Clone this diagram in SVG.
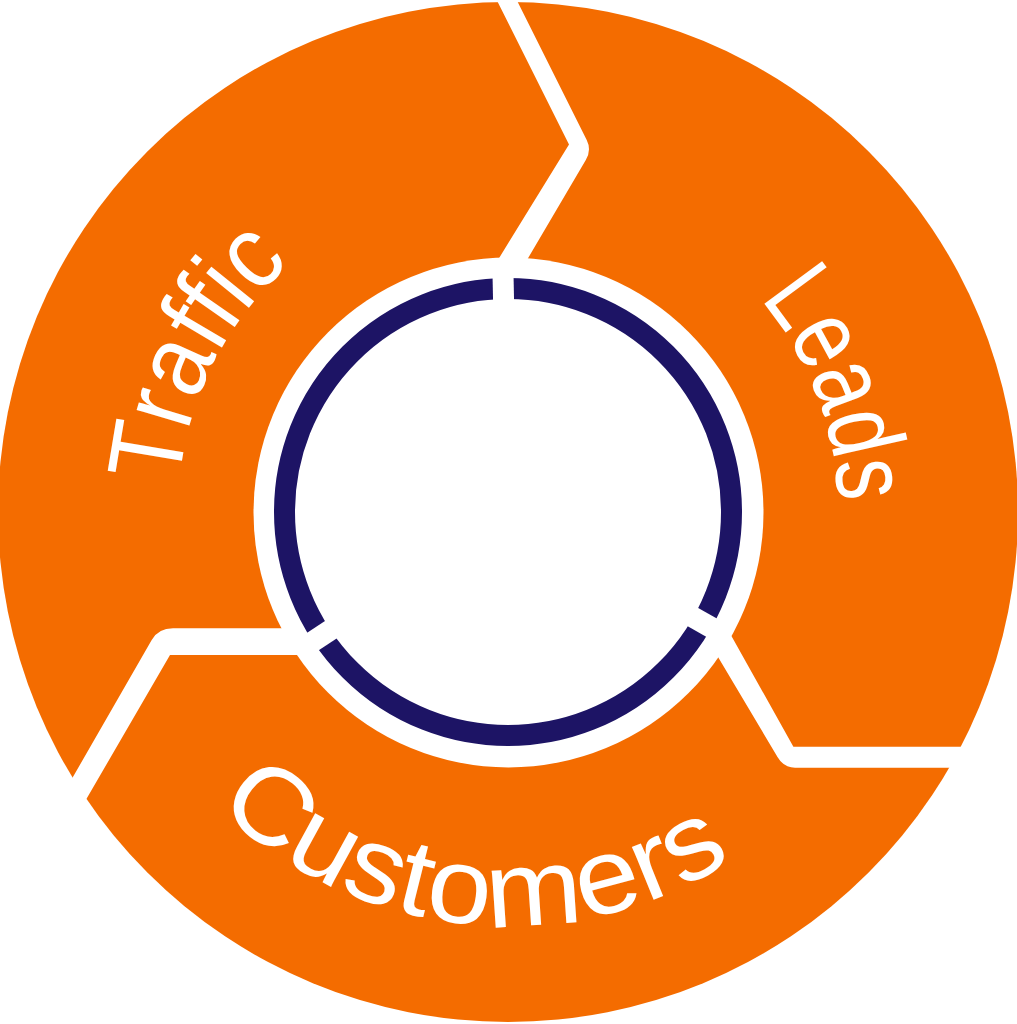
<svg xmlns="http://www.w3.org/2000/svg" width="1017" height="1024" viewBox="0 0 1017 1024">
  <style>
    .lbl { fill: #ffffff; font-family: "Liberation Sans", "DejaVu Sans", sans-serif; font-size: 104px; }
    .sep { fill: #ffffff; }
    .gap { stroke: #ffffff; stroke-width: 21; }
  </style>
  <defs>
    <path id="arcCustomers" d="M 100.3 583.9 A 414 414 0 0 0 915.7 583.9"/>
    <path id="arcTraffic" d="M 183 569.3 A 330 330 0 0 1 620.9 201.9"/>
    <path id="arcLeads" d="M 508 182 A 330 330 0 0 1 793.8 677"/>
  </defs>
  <rect width="1017" height="1024" fill="#ffffff"/>
  <g id="ring">
    <circle cx="508" cy="512" r="510" fill="#F46C00"/>
  </g>
  <g id="connectors">
    <path class="sep" d="M 494.2 -5 L 569 144.6 L 490.5 272 L 515.2 280 L 585.8 160 Q 591.7 150 586.7 140 L 514.2 -5 Z"/>
    <path class="sep" d="M 711.3 600 L 793.4 746.7 L 990 746.7 L 990 767.7 L 795 767.7 Q 783.8 767.7 777.5 757 L 696 620 Z"/>
    <path class="sep" d="M 300 628.3 L 173 628.3 Q 158.4 628.3 151.7 640 L 59.7 800 L 80 810 L 170 655 L 305 655 Z"/>
  </g>
  <g id="hub">
    <circle cx="508.5" cy="512.5" r="255" fill="#ffffff"/>
    <circle cx="508" cy="512" r="223.5" fill="none" stroke="#1D1465" stroke-width="21"/>
    <line class="gap" x1="503.8" y1="312" x2="502.85" y2="266.1"/>
    <line class="gap" x1="681.9" y1="610.8" x2="721.9" y2="633.5"/>
    <line class="gap" x1="341.4" y1="622.7" x2="303.1" y2="648.1"/>
  </g>
  <g id="node-traffic">
    <text class="lbl"><textPath href="#arcTraffic" startOffset="212" text-anchor="middle" textLength="254" lengthAdjust="spacingAndGlyphs">Traffic</textPath></text>
  </g>
  <g id="node-leads">
    <text class="lbl"><textPath href="#arcLeads" startOffset="397.4" text-anchor="middle" textLength="222" lengthAdjust="spacingAndGlyphs">Leads</textPath></text>
  </g>
  <g id="node-customers">
    <text class="lbl" style="font-size:108px"><textPath href="#arcCustomers" startOffset="535" text-anchor="middle" textLength="560" lengthAdjust="spacingAndGlyphs">Customers</textPath></text>
  </g>
</svg>
